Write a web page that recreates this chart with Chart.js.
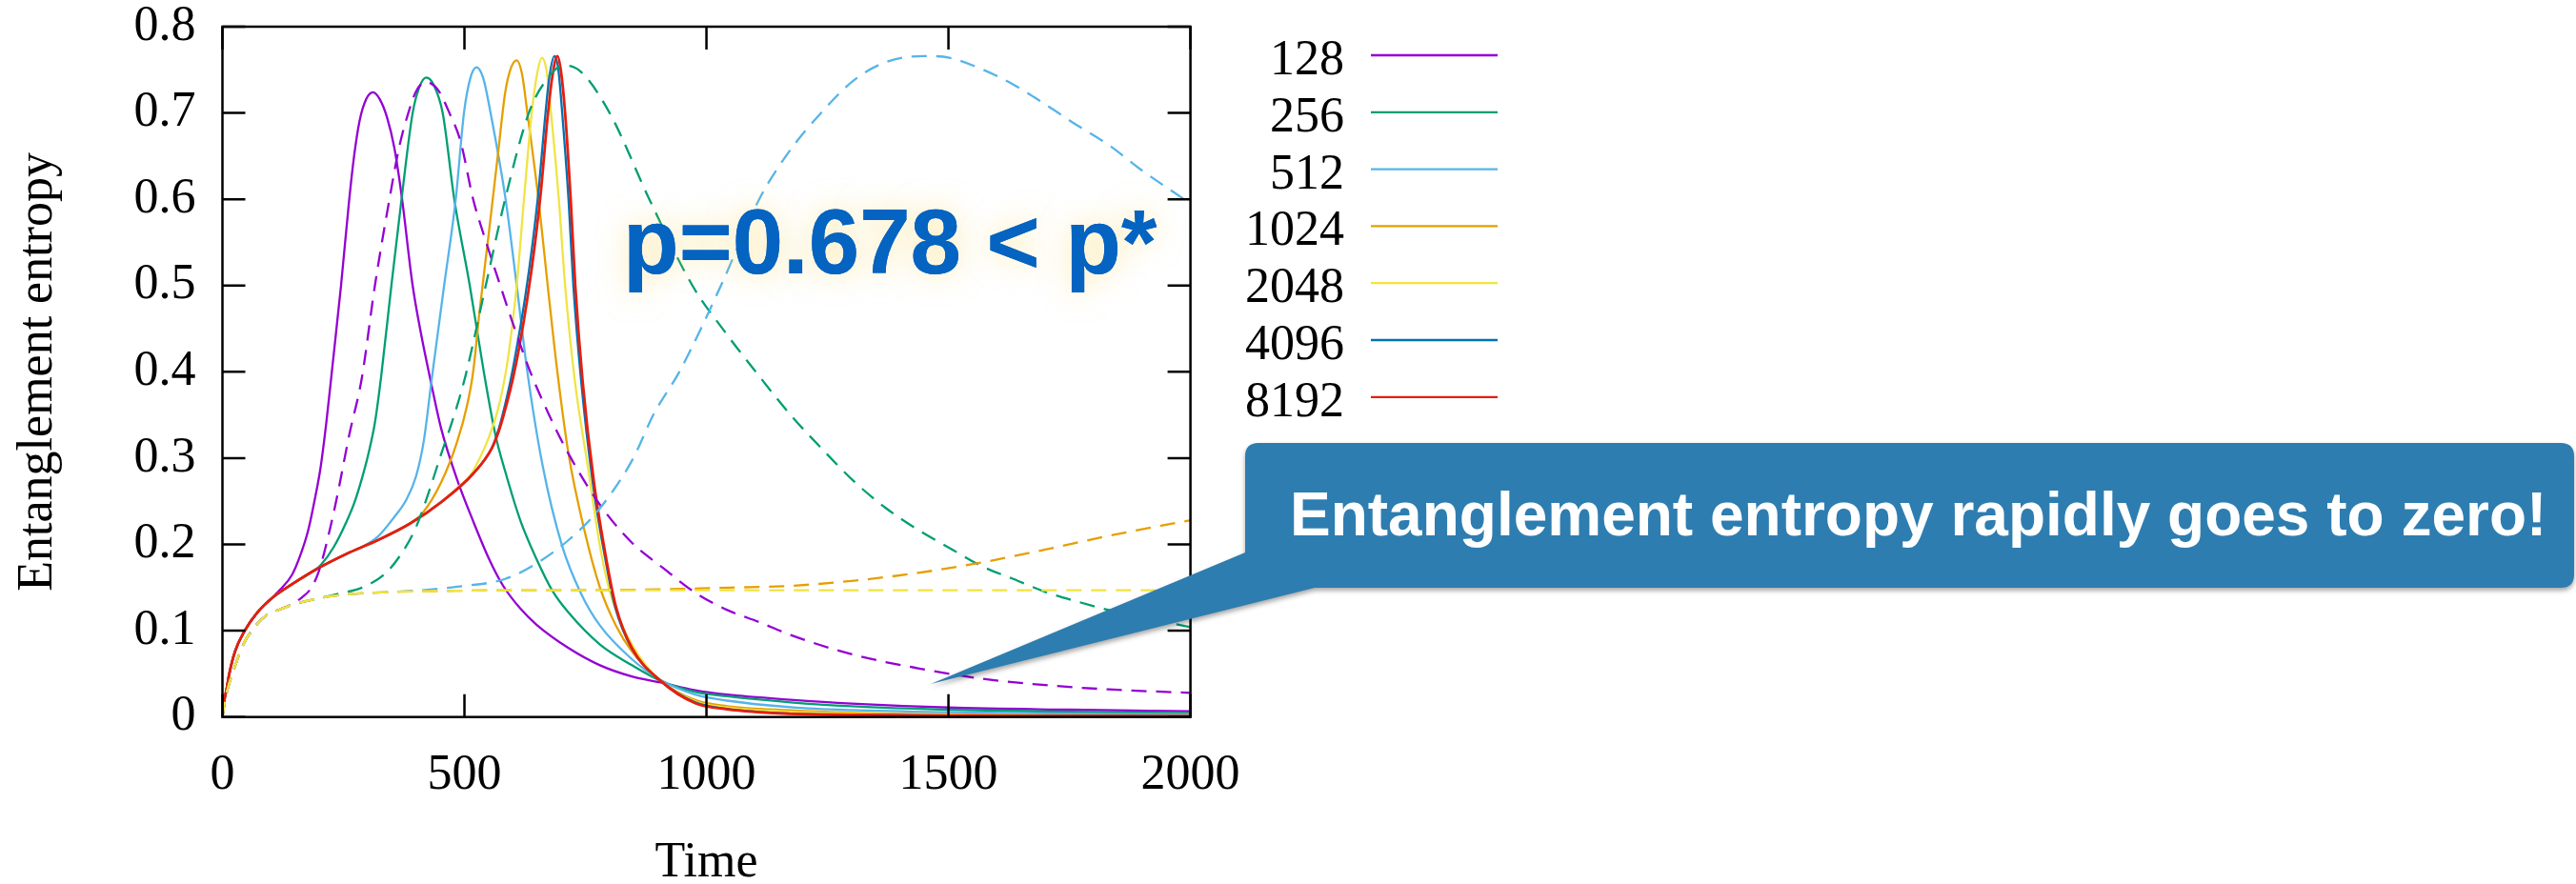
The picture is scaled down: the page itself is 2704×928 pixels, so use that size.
<!DOCTYPE html>
<html>
<head>
<meta charset="utf-8">
<script src="https://cdn.jsdelivr.net/npm/chart.js@4.4.1/dist/chart.umd.min.js"></script>
<style>
html,body{margin:0;padding:0;background:#ffffff;}
canvas{display:block;}
</style>
</head>
<body>
<canvas id="c" width="2704" height="928" style="width:2704px;height:928px"></canvas>
<script>
// ---------- data ----------
const seriesLabels = ['128', '256', '512', '1024', '2048', '4096', '8192'];
const xTicks = [0, 500, 1000, 1500, 2000];
const xTickLabels = ['0', '500', '1000', '1500', '2000'];
const yTicks = [0, 0.1, 0.2, 0.3, 0.4, 0.5, 0.6, 0.7, 0.8];
const yTickLabels = ['0', '0.1', '0.2', '0.3', '0.4', '0.5', '0.6', '0.7', '0.8'];
const xTitle = 'Time';
const yTitle = 'Entanglement entropy';
const annotationText = 'p=0.678 < p*';
const calloutText = 'Entanglement entropy rapidly goes to zero!';

// solid curves
const t128 = [0,3,9.5,13,26,46,72,100,120,144,160,177,190,203,215,226,245,262,272,283,297,311,325,340,355,370,393,410,430,452,485,518,551,580,615,649,715,780,846,905,977,1043,1174,1300,1500,1750,2000];
const v128 = [0,0.016,0.035,0.047,0.076,0.100,0.121,0.137,0.148,0.165,0.186,0.216,0.250,0.290,0.343,0.400,0.500,0.600,0.650,0.690,0.716,0.724,0.716,0.695,0.660,0.605,0.500,0.445,0.390,0.334,0.275,0.227,0.183,0.152,0.126,0.107,0.080,0.060,0.047,0.040,0.031,0.026,0.020,0.0155,0.011,0.0085,0.0066];

const t256 = [0,3,9.5,13,26,46,72,105,144,190,203,230,256,273,288,302,315,328,349,370,393,407,421,436,455,479,511,540,564,584,616,649,682,715,780,846,905,977,1043,1174,1300,1500,1750,2000];
const v256 = [0,0.016,0.035,0.047,0.076,0.100,0.121,0.139,0.154,0.170,0.176,0.197,0.226,0.249,0.276,0.306,0.341,0.395,0.500,0.600,0.700,0.730,0.741,0.733,0.700,0.600,0.500,0.400,0.327,0.285,0.227,0.183,0.146,0.121,0.084,0.060,0.042,0.029,0.024,0.017,0.0125,0.0085,0.006,0.0044];

const t512 = [0,3,9.5,13,26,46,72,105,144,190,256,288,321,354,380,400,416,432,458,482,499,512,525,539,554,585,608,630,662,702,741,780,846,905,977,1043,1174,1300,1500,1750,2000];
const v512 = [0,0.016,0.035,0.047,0.076,0.100,0.121,0.139,0.154,0.170,0.189,0.197,0.209,0.231,0.252,0.279,0.320,0.390,0.500,0.600,0.700,0.740,0.753,0.740,0.700,0.600,0.500,0.400,0.290,0.198,0.143,0.106,0.067,0.043,0.026,0.019,0.0114,0.008,0.0055,0.004,0.003];

const t1024 = [0,3,9.5,13,26,46,72,105,144,190,256,321,387,413,452,485,505,518,531,551,570,584,596,608,619,630,653,672,692,715,748,780,813,846,905,977,1043,1174,1300,1500,1750,2000];
const v1024 = [0,0.016,0.035,0.047,0.076,0.100,0.121,0.139,0.154,0.170,0.189,0.205,0.224,0.236,0.272,0.319,0.360,0.400,0.469,0.564,0.656,0.723,0.752,0.761,0.745,0.700,0.600,0.500,0.400,0.305,0.216,0.150,0.106,0.076,0.042,0.0196,0.0125,0.0077,0.005,0.003,0.002,0.0015];

const t2048 = [0,3,9.5,13,26,46,72,105,144,190,256,321,387,452,490,511,530,551,570,587,598,608,623,639,650,660,670,679,695,708,728,755,780,800,846,905,977,1043,1174,1300,1500,1750,2000];
const v2048 = [0,0.016,0.035,0.047,0.076,0.100,0.121,0.139,0.154,0.170,0.189,0.205,0.224,0.249,0.268,0.279,0.298,0.325,0.358,0.405,0.450,0.500,0.600,0.700,0.745,0.764,0.748,0.700,0.600,0.500,0.390,0.290,0.198,0.146,0.084,0.042,0.018,0.011,0.006,0.004,0.002,0.0013,0.001];

const t4096 = [0,3,9.5,13,26,46,72,105,144,190,256,321,387,452,518,557,572,584,596,608,625,641,654,665,675,686,694,702,715,725,741,765,792,811,845,905,977,1043,1174,1300,1500,1750,2000];
const v4096 = [0,0.016,0.035,0.047,0.076,0.100,0.121,0.139,0.154,0.170,0.189,0.205,0.224,0.249,0.282,0.312,0.336,0.362,0.392,0.428,0.485,0.550,0.615,0.685,0.740,0.766,0.750,0.700,0.600,0.500,0.390,0.272,0.180,0.128,0.080,0.042,0.017,0.0095,0.004,0.0027,0.0016,0.0012,0.001];

const t8192 = [0,3,9.5,13,26,46,72,105,144,190,256,321,387,452,518,557,572,584,600,613,630,646,659,670,681,692,699,708,719.5,729,744,767.5,794,813,846,905,977,1043,1174,1300,1500,1750,2000];
const v8192 = [0,0.016,0.035,0.047,0.076,0.100,0.121,0.139,0.154,0.170,0.189,0.205,0.224,0.249,0.282,0.312,0.333,0.356,0.392,0.428,0.485,0.550,0.615,0.685,0.740,0.766,0.750,0.700,0.600,0.500,0.390,0.272,0.180,0.128,0.080,0.042,0.016,0.009,0.0037,0.0025,0.0015,0.0012,0.001];

// dashed curves
const tD128 = [0,5,12,23,43,63,91,120,144,165,184,198,210,223,236,262,288,315,345,365,384,400,420,445,469,492,518,545,574,605,636,675,715,780,846,912,977,1043,1109,1174,1305,1437,1568,1700,1831,2000];
const vD128 = [0,0.018,0.035,0.054,0.084,0.102,0.118,0.125,0.131,0.139,0.150,0.167,0.190,0.220,0.253,0.327,0.393,0.500,0.600,0.660,0.700,0.725,0.736,0.727,0.700,0.667,0.600,0.550,0.500,0.448,0.400,0.350,0.305,0.246,0.202,0.172,0.144,0.124,0.110,0.095,0.072,0.0565,0.0445,0.037,0.032,0.028];

const tD256 = [0,5,12,23,43,63,91,120,144,203,242,288,334,367,400,426,452,479,502,544,584,633,665,705,740,800,882,971,1040,1102,1174,1240,1305,1371,1437,1502,1568,1634,1700,1765,1831,2000];
const vD256 = [0,0.018,0.035,0.054,0.084,0.102,0.118,0.125,0.130,0.138,0.143,0.150,0.165,0.187,0.220,0.260,0.305,0.350,0.395,0.500,0.600,0.700,0.735,0.755,0.748,0.700,0.600,0.500,0.445,0.400,0.350,0.310,0.273,0.242,0.217,0.196,0.175,0.160,0.145,0.134,0.124,0.104];

const tD512 = [0,5,12,23,43,63,91,120,144,203,256,354,413,485,584,649,715,780,846,892,944,1030,1109,1168,1240,1305,1371,1450,1502,1568,1634,1700,1765,1831,1896,2000];
const vD512 = [0,0.018,0.035,0.054,0.084,0.102,0.118,0.125,0.130,0.138,0.142,0.145,0.147,0.151,0.160,0.178,0.205,0.242,0.297,0.352,0.400,0.500,0.600,0.653,0.702,0.738,0.759,0.766,0.764,0.751,0.733,0.710,0.686,0.663,0.635,0.595];

const tD1024 = [0,5,12,23,43,63,91,120,144,203,256,354,452,584,700,850,950,1050,1174,1305,1437,1568,1700,1831,2000];
const vD1024 = [0,0.018,0.035,0.054,0.084,0.102,0.118,0.125,0.130,0.138,0.142,0.145,0.146,0.147,0.147,0.1475,0.1485,0.150,0.152,0.158,0.167,0.179,0.194,0.210,0.228];

const tD2048 = [0,5,12,23,43,63,91,120,144,203,256,354,452,584,1000,1500,2000];
const vD2048 = [0,0.018,0.035,0.054,0.084,0.102,0.118,0.125,0.130,0.138,0.142,0.145,0.146,0.147,0.147,0.147,0.147];

// ---------- styles ----------
const COLORS = {
  '128': '#9400d3', '256': '#009e73', '512': '#56b4e9', '1024': '#e69f00',
  '2048': '#f0e442', '4096': '#0072b2', '8192': '#e51e10'
};
const SERIF = '"Liberation Serif", "Times New Roman", Times, serif';
const SANS = '"Liberation Sans", Arial, Helvetica, sans-serif';

function pts(t, v) { return t.map((x, i) => ({ x: x, y: v[i] })); }

const solid = [
  [t128, v128], [t256, v256], [t512, v512], [t1024, v1024],
  [t2048, v2048], [t4096, v4096], [t8192, v8192]
];
const dashed = [
  ['128', tD128, vD128], ['256', tD256, vD256], ['512', tD512, vD512],
  ['1024', tD1024, vD1024], ['2048', tD2048, vD2048]
];

const datasets = [];
solid.forEach((s, i) => {
  const lab = seriesLabels[i];
  datasets.push({
    label: lab, data: pts(s[0], s[1]), borderColor: COLORS[lab],
    borderWidth: lab === '8192' ? 2.8 : 2.3, pointRadius: 0, fill: false,
    cubicInterpolationMode: 'monotone', order: 11 - i, isSolid: true
  });
});
dashed.forEach((d, i) => {
  datasets.push({
    label: d[0] + ' (dashed)', data: pts(d[1], d[2]), borderColor: COLORS[d[0]],
    borderWidth: 2.3, borderDash: [16, 10], pointRadius: 0, fill: false,
    cubicInterpolationMode: 'monotone', order: 4 - i, isSolid: false
  });
});

// ---------- plugins ----------
const framePlugin = {
  id: 'frame',
  afterDatasetsDraw(chart) {
    const { ctx, chartArea: { left, right, top, bottom }, scales: { x, y } } = chart;
    ctx.save();
    ctx.strokeStyle = '#000';
    ctx.lineWidth = 2.5;
    ctx.strokeRect(left, top, right - left, bottom - top);
    ctx.beginPath();
    const L = 24;
    xTicks.forEach(v => {
      const px = x.getPixelForValue(v);
      ctx.moveTo(px, bottom); ctx.lineTo(px, bottom - L);
      ctx.moveTo(px, top); ctx.lineTo(px, top + L);
    });
    yTicks.forEach(v => {
      const py = y.getPixelForValue(v);
      ctx.moveTo(left, py); ctx.lineTo(left + L, py);
      ctx.moveTo(right, py); ctx.lineTo(right - L, py);
    });
    ctx.stroke();
    ctx.restore();
  }
};

const legendPlugin = {
  id: 'keyLegend',
  afterDraw(chart) {
    const ctx = chart.ctx;
    ctx.save();
    ctx.font = '52px ' + SERIF;
    ctx.textAlign = 'right';
    ctx.textBaseline = 'alphabetic';
    let row = 0;
    chart.data.datasets.forEach(ds => {
      if (!ds.isSolid) return;
      const yLine = 58 + row * 59.8;
      ctx.fillStyle = '#000';
      ctx.fillText(ds.label, 1411, yLine + 20);
      ctx.strokeStyle = ds.borderColor;
      ctx.lineWidth = 2.3;
      ctx.beginPath();
      ctx.moveTo(1439, yLine);
      ctx.lineTo(1572, yLine);
      ctx.stroke();
      row++;
    });
    ctx.restore();
  }
};

const annotationPlugin = {
  id: 'notes',
  afterDraw(chart) {
    const ctx = chart.ctx;
    // glowing label
    ctx.save();
    ctx.font = 'bold 96px ' + SANS;
    ctx.textAlign = 'left';
    ctx.textBaseline = 'alphabetic';
    ctx.fillStyle = '#0563c1';
    ctx.shadowColor = 'rgba(250, 215, 100, 0.5)';
    ctx.shadowBlur = 30;
    ctx.fillText(annotationText, 654, 287);
    ctx.shadowBlur = 0;
    ctx.shadowColor = 'rgba(0,0,0,0)';
    ctx.fillText(annotationText, 654, 287);
    ctx.restore();

    // callout
    ctx.save();
    const bx = 1307, by = 465, bw = 2702 - 1307, bh = 617 - 465, r = 14;
    ctx.fillStyle = '#2e7db0';
    ctx.shadowColor = 'rgba(0,0,0,0.35)';
    ctx.shadowBlur = 5;
    ctx.shadowOffsetY = 3;
    ctx.beginPath();
    ctx.moveTo(bx + r, by);
    ctx.lineTo(bx + bw - r, by);
    ctx.quadraticCurveTo(bx + bw, by, bx + bw, by + r);
    ctx.lineTo(bx + bw, by + bh - r);
    ctx.quadraticCurveTo(bx + bw, by + bh, bx + bw - r, by + bh);
    ctx.lineTo(1380, by + bh);
    ctx.lineTo(977, 718);
    ctx.lineTo(bx, 580);
    ctx.lineTo(bx, by + r);
    ctx.quadraticCurveTo(bx, by, bx + r, by);
    ctx.closePath();
    ctx.fill();
    ctx.shadowColor = 'rgba(0,0,0,0)';
    ctx.shadowBlur = 0; ctx.shadowOffsetY = 0;
    ctx.font = 'bold 64px ' + SANS;
    ctx.fillStyle = '#ffffff';
    ctx.textAlign = 'left';
    ctx.textBaseline = 'alphabetic';
    ctx.fillText(calloutText, 1354, 562);
    ctx.restore();
  }
};

// ---------- chart ----------
new Chart(document.getElementById('c'), {
  type: 'line',
  data: { datasets: datasets },
  plugins: [framePlugin, legendPlugin, annotationPlugin],
  options: {
    responsive: false,
    animation: false,
    devicePixelRatio: 1,
    layout: { autoPadding: false, padding: { left: 0, top: 28, right: 1454.4, bottom: 0 } },
    plugins: { legend: { display: false }, tooltip: { enabled: false } },
    scales: {
      x: {
        type: 'linear', min: 0, max: 2000,
        afterBuildTicks: s => { s.ticks = xTicks.map(v => ({ value: v })); },
        afterFit: s => { s.height = 175.3; s.paddingLeft = 0; s.paddingRight = 0; },
        grid: { display: false, drawTicks: false },
        border: { display: false },
        ticks: {
          color: '#000', font: { family: SERIF, size: 52, lineHeight: 1 },
          padding: 36, maxRotation: 0, autoSkip: false,
          callback: (v, i) => xTickLabels[i]
        },
        title: {
          display: true, text: xTitle, color: '#000',
          font: { family: SERIF, size: 52, lineHeight: 0.8 },
          padding: { top: 0, bottom: 1 }
        }
      },
      y: {
        type: 'linear', min: 0, max: 0.8,
        afterBuildTicks: s => { s.ticks = yTicks.map(v => ({ value: v })); },
        afterFit: s => { s.width = 233.5; s.paddingTop = 0; s.paddingBottom = 0; },
        grid: { display: false, drawTicks: false },
        border: { display: false },
        ticks: {
          color: '#000', font: { family: SERIF, size: 52, lineHeight: 1 },
          padding: 28, autoSkip: false,
          callback: (v, i) => yTickLabels[i]
        },
        title: {
          display: true, text: yTitle, color: '#000',
          font: { family: SERIF, size: 52, lineHeight: 1.2 },
          padding: { top: 9, bottom: 0 }
        }
      }
    }
  }
});
</script>
</body>
</html>
